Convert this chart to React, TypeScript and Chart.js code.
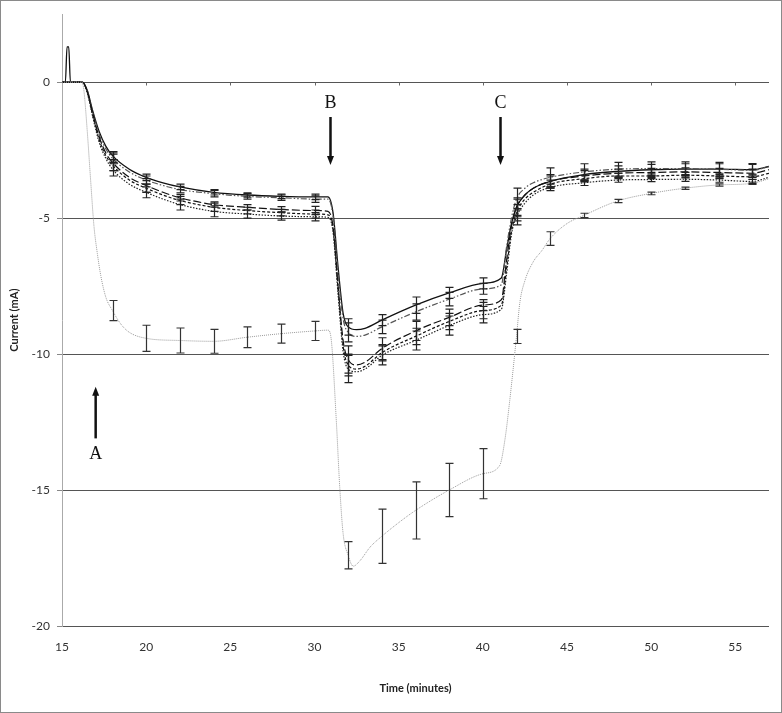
import React, { useEffect, useRef } from "react";
import { Chart, registerables } from "chart.js";
Chart.register(...registerables);

// ---- axis ticks ----
const X_TICKS = [15, 20, 25, 30, 35, 40, 45, 50, 55];
const Y_TICKS = [-20, -15, -10, -5, 0];

// ---- shared time base for the five upper curves (minutes) ----
const timeUpper = [
  15, 15.2, 15.3, 15.4, 15.5, 16.2, 16.5, 16.8, 17.2, 17.6, 18, 19, 20, 21, 22, 24, 26, 28, 30, 30.8,
  31.1, 31.4, 31.7, 32, 32.5, 33, 34, 36, 38, 40, 41.1,
  41.4, 41.7, 42, 42.5, 43, 44, 46, 48, 50, 52, 54, 56, 57,
];

const solidVals = [
  0, 0, 1.3, 1.3, 0, 0, -0.3, -1.0, -1.8, -2.35, -2.7, -3.2, -3.5, -3.7, -3.85, -4.05, -4.15, -4.2, -4.22, -4.22,
  -4.8, -6.8, -8.5, -9.0, -9.1, -9.05, -8.75, -8.2, -7.75, -7.4, -7.2,
  -6.2, -5.2, -4.6, -4.15, -3.9, -3.65, -3.4, -3.28, -3.22, -3.2, -3.2, -3.22, -3.1,
];
const dashDotVals = [
  0, 0, 0, 0, 0, 0, -0.3, -1.05, -1.9, -2.45, -2.8, -3.3, -3.6, -3.8, -3.95, -4.1, -4.2, -4.25, -4.3, -4.3,
  -4.9, -7.0, -8.7, -9.2, -9.35, -9.3, -9.0, -8.45, -7.98, -7.6, -7.45,
  -6.1, -5.0, -4.3, -3.9, -3.7, -3.5, -3.3, -3.2, -3.18, -3.18, -3.2, -3.24, -3.1,
];
const longDashVals = [
  0, 0, 0, 0, 0, 0, -0.35, -1.1, -2.0, -2.6, -2.95, -3.5, -3.8, -4.05, -4.25, -4.5, -4.6, -4.68, -4.72, -4.75,
  -5.3, -7.5, -9.5, -10.2, -10.4, -10.3, -9.8, -9.15, -8.65, -8.2, -8.0,
  -6.6, -5.3, -4.6, -4.15, -3.9, -3.65, -3.45, -3.35, -3.32, -3.3, -3.32, -3.35, -3.22,
];
const shortDashVals = [
  0, 0, 0, 0, 0, 0, -0.35, -1.15, -2.1, -2.7, -3.05, -3.6, -3.9, -4.15, -4.35, -4.6, -4.72, -4.8, -4.85, -4.88,
  -5.4, -7.6, -9.7, -10.4, -10.55, -10.45, -9.95, -9.35, -8.8, -8.4, -8.2,
  -6.9, -5.5, -4.8, -4.3, -4.05, -3.75, -3.55, -3.45, -3.45, -3.42, -3.45, -3.48, -3.35,
];
const dottedVals = [
  0, 0, 0, 0, 0, 0, -0.4, -1.2, -2.2, -2.8, -3.2, -3.75, -4.05, -4.3, -4.5, -4.75, -4.85, -4.92, -4.95, -4.97,
  -5.5, -7.8, -9.9, -10.55, -10.65, -10.55, -10.05, -9.5, -8.95, -8.55, -8.35,
  -7.1, -5.6, -4.95, -4.45, -4.15, -3.87, -3.7, -3.6, -3.58, -3.57, -3.6, -3.65, -3.5,
];

// ---- grey (large-response) curve ----
const timeGrey = [
  15, 16.2, 16.3, 16.5, 16.7, 16.9, 17.1, 17.3, 17.6, 18, 18.5, 19, 20, 22, 24, 26, 28, 30, 30.8,
  31.0, 31.3, 31.5, 31.7, 32, 32.3, 32.7, 33.3, 34, 35, 36, 38, 40, 41.0,
  41.3, 41.6, 42, 42.2, 42.5, 43, 43.5, 44, 45, 46, 48, 50, 52, 54, 56, 57,
];
const greyVals = [
  0, 0, -0.3, -1.8, -3.6, -5.3, -6.3, -7.1, -7.9, -8.4, -8.9, -9.2, -9.42, -9.5, -9.53, -9.38, -9.25, -9.15, -9.12,
  -9.5, -12.5, -14.9, -16.6, -17.4, -17.8, -17.6, -17.1, -16.7, -16.2, -15.75, -15.0, -14.4, -14.1,
  -13.2, -11.7, -9.35, -8.1, -7.3, -6.6, -6.2, -5.75, -5.2, -4.9, -4.37, -4.09, -3.9, -3.78, -3.72, -3.55,
];

// ---- error bars (half-widths, mA) at these times ----
const errTimes = [18, 20, 22, 24, 26, 28, 30, 32, 34, 36, 38, 40, 42, 44, 46, 48, 50, 52, 54, 56];
const solidErr = [0.15, 0.12, 0.1, 0.1, 0.08, 0.08, 0.1, 0.3, 0.2, 0.3, 0.2, 0.2, 0.35, 0.25, 0.2, 0.2, 0.2, 0.2, 0.2, 0.2];
const dashDotErr = [0.2, 0.15, 0.12, 0.12, 0.1, 0.1, 0.12, 0.35, 0.25, 0.3, 0.25, 0.2, 0.4, 0.35, 0.3, 0.25, 0.25, 0.25, 0.25, 0.25];
const longDashErr = [0.3, 0.25, 0.12, 0.1, 0.1, 0.1, 0.15, 0.5, 0.4, 0.35, 0.3, 0.2, 0.3, 0.2, 0.2, 0.15, 0.15, 0.15, 0.15, 0.15];
const shortDashErr = [0.2, 0.15, 0.15, 0.15, 0.12, 0.12, 0.15, 0.4, 0.3, 0.3, 0.3, 0.3, 0.3, 0.15, 0.12, 0.1, 0.1, 0.1, 0.1, 0.1];
const dottedErr = [0.25, 0.2, 0.2, 0.2, 0.15, 0.15, 0.15, 0.5, 0.35, 0.35, 0.35, 0.3, 0.3, 0.12, 0.1, 0.08, 0.08, 0.08, 0.08, 0.08];
const greyErr = [0.37, 0.48, 0.46, 0.44, 0.38, 0.35, 0.35, 0.5, 1.0, 1.05, 0.98, 0.92, 0.26, 0.25, 0.08, 0.06, 0.05, 0.04, 0.04, 0.04];

// ---- annotation markers ----
const markLabels = ["A", "B", "C"];
const markTimes = [17.0, 30.95, 41.05];
const markTextV = [-13.7, -0.77, -0.77];
const markArrowFrom = [-13.1, -1.28, -1.28];
const markArrowTo = [-11.2, -3.05, -3.05];

const TICK_FONT = "'Liberation Sans Narrow', Lato, 'Open Sans', sans-serif";
const TITLE_FONT = "Lato, 'Open Sans', sans-serif";

function pts(t: number[], v: number[]) {
  return t.map((x, i) => ({ x, y: v[i] }));
}

const errorBarPlugin = {
  id: "errorBars",
  afterDatasetsDraw(chart: any) {
    const { ctx, scales } = chart;
    const xs = scales.x, ys = scales.y;
    ctx.save();
    chart.data.datasets.forEach((ds: any) => {
      if (!ds.errVals) return;
      ctx.strokeStyle = ds.errColor || "#222";
      ctx.lineWidth = 1.2;
      errTimes.forEach((t, i) => {
        const p = ds.data.find((d: any) => d.x === t);
        if (!p) return;
        const e = ds.errVals[i];
        const px = Math.round(xs.getPixelForValue(t)) + 0.5;
        const y1 = ys.getPixelForValue(p.y + e);
        const y2 = ys.getPixelForValue(p.y - e);
        ctx.beginPath();
        ctx.moveTo(px, y1); ctx.lineTo(px, y2);
        ctx.moveTo(px - 4, y1); ctx.lineTo(px + 4, y1);
        ctx.moveTo(px - 4, y2); ctx.lineTo(px + 4, y2);
        ctx.stroke();
      });
    });
    ctx.restore();
  },
};

const decorPlugin = {
  id: "decor",
  afterDraw(chart: any) {
    const { ctx, scales } = chart;
    const xs = scales.x, ys = scales.y;
    ctx.save();
    // small x ticks on the zero line
    const y0 = Math.round(ys.getPixelForValue(0)) + 0.5;
    ctx.strokeStyle = "#666";
    ctx.lineWidth = 1;
    X_TICKS.forEach((t) => {
      if (t === 15) return;
      const px = Math.round(xs.getPixelForValue(t)) + 0.5;
      ctx.beginPath(); ctx.moveTo(px, y0); ctx.lineTo(px, y0 + 3); ctx.stroke();
    });
    // arrows and letters
    ctx.fillStyle = "#111";
    ctx.strokeStyle = "#111";
    ctx.font = "18px 'Liberation Serif', 'DejaVu Serif', serif";
    ctx.textAlign = "center";
    ctx.textBaseline = "middle";
    markLabels.forEach((lab, i) => {
      const px = xs.getPixelForValue(markTimes[i]);
      ctx.fillText(lab, px, ys.getPixelForValue(markTextV[i]));
      const yf = ys.getPixelForValue(markArrowFrom[i]);
      const yt = ys.getPixelForValue(markArrowTo[i]);
      const dir = yt > yf ? 1 : -1;
      ctx.lineWidth = 2.5;
      ctx.beginPath();
      ctx.moveTo(px, yf);
      ctx.lineTo(px, yt - dir * 8);
      ctx.stroke();
      ctx.beginPath();
      ctx.moveTo(px, yt);
      ctx.lineTo(px - 3.5, yt - dir * 9);
      ctx.lineTo(px + 3.5, yt - dir * 9);
      ctx.closePath();
      ctx.fill();
    });
    // outer frame
    ctx.strokeStyle = "#8a8a8a";
    ctx.lineWidth = 1;
    ctx.strokeRect(0.5, 0.5, chart.width - 1, chart.height - 1);
    ctx.restore();
  },
};

const bgPlugin = {
  id: "bg",
  beforeDraw(chart: any) {
    const { ctx } = chart;
    ctx.save();
    ctx.fillStyle = "#fff";
    ctx.fillRect(0, 0, chart.width, chart.height);
    ctx.restore();
  },
};

export default function App() {
  const ref = useRef<HTMLCanvasElement>(null);
  useEffect(() => {
    const base = {
      pointRadius: 0,
      fill: false,
      cubicInterpolationMode: "monotone" as const,
      borderCapStyle: "butt" as const,
    };
    const chart = new Chart(ref.current as HTMLCanvasElement, {
      type: "line",
      data: {
        datasets: [
          { ...base, label: "grey", data: pts(timeGrey, greyVals), borderColor: "#9a9a9a", borderWidth: 1, borderDash: [1, 1], errVals: greyErr, errColor: "#333" } as any,
          { ...base, label: "dotted", data: pts(timeUpper, dottedVals), borderColor: "#222", borderWidth: 1.2, borderDash: [1.5, 1.5], errVals: dottedErr } as any,
          { ...base, label: "shortDash", data: pts(timeUpper, shortDashVals), borderColor: "#111", borderWidth: 1.2, borderDash: [3, 2], errVals: shortDashErr } as any,
          { ...base, label: "longDash", data: pts(timeUpper, longDashVals), borderColor: "#111", borderWidth: 1.2, borderDash: [8, 3], errVals: longDashErr } as any,
          { ...base, label: "dashDot", data: pts(timeUpper, dashDotVals), borderColor: "#555", borderWidth: 1.2, borderDash: [6, 2, 1.5, 2, 1.5, 2], errVals: dashDotErr } as any,
          { ...base, label: "solid", data: pts(timeUpper, solidVals), borderColor: "#111", borderWidth: 1.3, errVals: solidErr } as any,
        ],
      },
      options: {
        responsive: false,
        animation: false,
        events: [],
        layout: { padding: { top: 10, right: 13, left: 0, bottom: 0 } },
        plugins: { legend: { display: false }, tooltip: { enabled: false } },
        scales: {
          x: {
            type: "linear",
            min: 15,
            max: 57,
            afterBuildTicks: (s: any) => { s.ticks = X_TICKS.map((v) => ({ value: v })); },
            afterFit: (s: any) => { s.height = 87; },
            grid: { display: false, drawTicks: false },
            border: { display: false },
            ticks: { font: { family: TICK_FONT, size: 12 }, color: "#333", padding: 14, maxRotation: 0, autoSkip: false },
            title: { display: true, text: "Time (minutes)", color: "#222", font: { family: TITLE_FONT, size: 11, weight: "bold" }, padding: { top: 4, bottom: 18 } },
          },
          y: {
            type: "linear",
            min: -20,
            max: 2.5,
            afterBuildTicks: (s: any) => { s.ticks = Y_TICKS.map((v) => ({ value: v })); },
            afterFit: (s: any) => { s.width = 62; },
            grid: { color: "#555", lineWidth: 1, drawTicks: true, tickLength: 5, tickColor: "#888" },
            border: { display: true, color: "#aaa", width: 1 },
            ticks: { font: { family: TICK_FONT, size: 12 }, color: "#333", padding: 7, autoSkip: false },
            title: { display: true, text: "Current (mA)", color: "#222", font: { family: TITLE_FONT, size: 11, weight: "bold" }, padding: { top: 8, bottom: 0 } },
          },
        },
      } as any,
      plugins: [bgPlugin, errorBarPlugin, decorPlugin],
    });
    return () => chart.destroy();
  }, []);
  return (
    <div style={{ position: "absolute", left: 0, top: 0, width: 782, height: 713, background: "#fff" }}>
      <canvas ref={ref} width={782} height={713} style={{ display: "block", width: 782, height: 713 }} />
    </div>
  );
}
